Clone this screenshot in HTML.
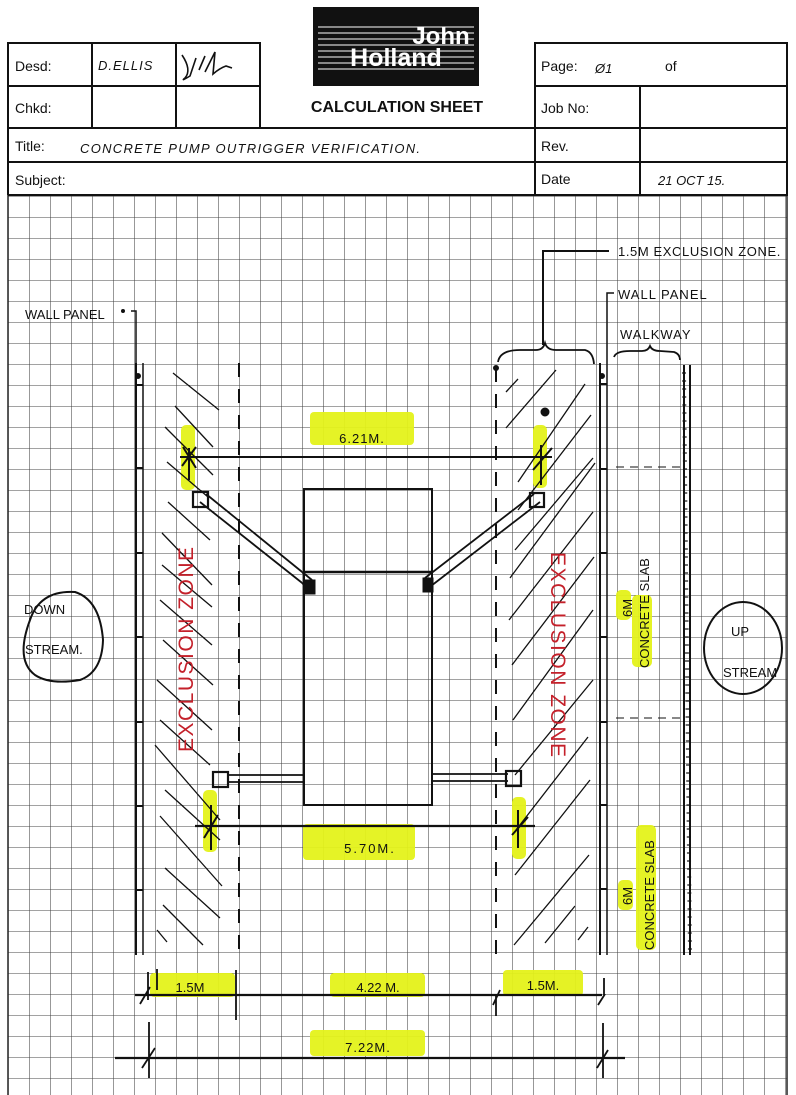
<!DOCTYPE html>
<html><head><meta charset="utf-8"><style>
html,body{margin:0;padding:0;background:#fff}
svg{display:block}
.h{font-family:"Liberation Sans",sans-serif;font-size:14px;fill:#111}
.w{font-family:"Liberation Sans",sans-serif;fill:#111;font-size:13px}
.r{font-family:"Liberation Sans",sans-serif;fill:#c4202a;font-size:21px;letter-spacing:1.5px}
</style></head><body>
<svg width="796" height="1095" viewBox="0 0 796 1095" xmlns="http://www.w3.org/2000/svg">
<defs>
<pattern id="g" x="8" y="196" width="21" height="21" patternUnits="userSpaceOnUse">
<path d="M0 0H21M0 0V21" stroke="#444" stroke-width="1.1" fill="none"/>
</pattern>
</defs>
<rect x="8" y="195" width="779" height="900" fill="url(#g)"/>
<line x1="787" y1="195" x2="787" y2="1095" stroke="#222" stroke-width="1.5"/>
<line x1="8" y1="195" x2="8" y2="1095" stroke="#222" stroke-width="1.5"/>

<g stroke="#111" stroke-width="2" fill="none">
<rect x="8" y="43" width="252" height="85"/>
<line x1="8" y1="86" x2="260" y2="86"/>
<line x1="92" y1="43" x2="92" y2="128"/>
<line x1="176" y1="43" x2="176" y2="128"/>
<rect x="535" y="43" width="252" height="152"/>
<line x1="535" y1="86" x2="787" y2="86"/>
<line x1="535" y1="128" x2="787" y2="128"/>
<line x1="535" y1="162" x2="787" y2="162"/>
<line x1="640" y1="86" x2="640" y2="195"/>
<line x1="8" y1="128" x2="535" y2="128"/>
<line x1="8" y1="162" x2="535" y2="162"/>
<line x1="8" y1="128" x2="8" y2="195"/>
<line x1="8" y1="195" x2="787" y2="195"/>
</g>
<text class="h" x="15" y="71">Desd:</text>
<text class="h" x="15" y="113">Chkd:</text>
<text class="h" x="15" y="151">Title:</text>
<text class="h" x="15" y="185">Subject:</text>
<text class="h" x="541" y="71">Page:</text>
<text class="h" x="665" y="71">of</text>
<text class="h" x="541" y="113">Job No:</text>
<text class="h" x="541" y="151">Rev.</text>
<text class="h" x="541" y="184">Date</text>
<text class="w" x="98" y="70" font-size="16" font-style="italic" letter-spacing="1">D.ELLIS</text>
<path d="M182 55 Q192 70 185 78 Q180 82 190 76 L196 58 M199 70 L205 56 M205 72 L215 52 L213 74 Q220 68 226 66 L232 68" stroke="#111" stroke-width="1.6" fill="none"/>
<text class="w" x="80" y="153" font-size="18" font-style="italic" letter-spacing="1.3">CONCRETE  PUMP  OUTRIGGER  VERIFICATION.</text>
<text class="w" x="595" y="73" font-size="17" font-style="italic">Ø1</text>
<text class="w" x="658" y="185" font-size="16" font-style="italic">21  OCT 15.</text>

<rect x="313" y="7" width="166" height="79" fill="#111"/>
<g stroke="#fff" stroke-width="1">
<line x1="318" y1="27" x2="474" y2="27"/><line x1="318" y1="33" x2="474" y2="33"/>
<line x1="318" y1="39" x2="474" y2="39"/><line x1="318" y1="45" x2="474" y2="45"/>
<line x1="318" y1="51" x2="474" y2="51"/><line x1="318" y1="57" x2="474" y2="57"/>
<line x1="318" y1="63" x2="474" y2="63"/><line x1="318" y1="69" x2="474" y2="69"/>
</g>
<text x="441" y="44" text-anchor="middle" font-family="Liberation Sans,sans-serif" font-weight="bold" font-size="24" fill="#fff">John</text>
<text x="396" y="66" text-anchor="middle" font-family="Liberation Sans,sans-serif" font-weight="bold" font-size="25" fill="#fff">Holland</text>
<text x="397" y="112" text-anchor="middle" font-family="Liberation Sans,sans-serif" font-weight="bold" font-size="16" fill="#111">CALCULATION SHEET</text>

<g fill="#e4f21a" opacity="0.95">
<rect x="310" y="412" width="104" height="33" rx="4"/>
<rect x="181" y="425" width="14" height="65" rx="5"/>
<rect x="533" y="425" width="14" height="63" rx="5"/>
<rect x="303" y="824" width="112" height="36" rx="4"/>
<rect x="203" y="790" width="14" height="62" rx="5"/>
<rect x="512" y="797" width="14" height="62" rx="5"/>
<rect x="616" y="590" width="15" height="30" rx="5"/>
<rect x="632" y="595" width="20" height="72" rx="5"/>
<rect x="618" y="880" width="15" height="30" rx="5"/>
<rect x="636" y="825" width="20" height="125" rx="5"/>
<rect x="150" y="973" width="85" height="24" rx="4"/>
<rect x="330" y="973" width="95" height="24" rx="4"/>
<rect x="503" y="970" width="80" height="26" rx="4"/>
<rect x="310" y="1030" width="115" height="26" rx="4"/>
</g>

<g stroke="#111" fill="none">
<line x1="136" y1="363" x2="136" y2="955" stroke-width="2"/>
<line x1="143" y1="363" x2="143" y2="955" stroke-width="1.5"/>
<path d="M136 385h7M136 468h7M136 553h7M136 637h7M136 722h7M136 806h7M136 890h7" stroke-width="2"/>
<circle cx="138" cy="376" r="2.5" fill="#111"/>
<line x1="239" y1="363" x2="239" y2="955" stroke-width="2" stroke-dasharray="14 12"/>
<line x1="496" y1="368" x2="496" y2="955" stroke-width="2" stroke-dasharray="14 12"/>
<circle cx="496" cy="368" r="2.5" fill="#111"/>
<line x1="600" y1="363" x2="600" y2="955" stroke-width="2"/>
<line x1="607" y1="363" x2="607" y2="955" stroke-width="1.5"/>
<path d="M600 384h7M600 469h7M600 553h7M600 637h7M600 722h7M600 805h7M600 889h7" stroke-width="2"/>
<circle cx="602" cy="376" r="2.5" fill="#111"/>
<line x1="684" y1="365" x2="684" y2="955" stroke-width="2"/>
<line x1="690" y1="365" x2="690" y2="955" stroke-width="2"/>
<line x1="684" y1="372" x2="690" y2="955" stroke-width="4" stroke-dasharray="2 6" opacity="0.6"/>
<line x1="616" y1="467" x2="680" y2="467" stroke-dasharray="8 6"/>
<line x1="616" y1="718" x2="680" y2="718" stroke-dasharray="8 6"/>
<rect x="304" y="489" width="128" height="316" stroke-width="2"/>
<line x1="304" y1="572" x2="432" y2="572" stroke-width="2.5"/>
<path d="M200 502 L306 586 M206 494 L312 580" stroke-width="1.8"/>
<path d="M534 494 L425 578 M540 502 L431 586" stroke-width="1.8"/>
<path d="M228 775 H304 M228 782 H304" stroke-width="1.8"/>
<path d="M432 774 H508 M432 781 H508" stroke-width="1.8"/>
<rect x="193" y="492" width="15" height="15" stroke-width="2.2"/>
<rect x="530" y="493" width="14" height="14" stroke-width="2.2"/>
<rect x="213" y="772" width="15" height="15" stroke-width="2.2"/>
<rect x="506" y="771" width="15" height="15" stroke-width="2.2"/>
<rect x="305" y="580" width="10" height="14" fill="#111"/>
<rect x="423" y="578" width="10" height="14" fill="#111"/>
<circle cx="545" cy="412" r="4" fill="#111"/>
<line x1="180" y1="457" x2="552" y2="457" stroke-width="2"/>
<path d="M183 447 L196 468 M196 447 L182 466 M189 448 V480" stroke-width="2"/>
<path d="M533 470 L552 448 M541 445 V485" stroke-width="2"/>
<line x1="195" y1="826" x2="535" y2="826" stroke-width="2.2"/>
<path d="M211 805 V850 M204 838 L218 815" stroke-width="2"/>
<path d="M518 810 V848 M512 835 L528 817" stroke-width="2"/>
<g stroke-width="1.3">
<path d="M173 373l46 37M175 406l38 41M165 427l48 48M167 462l41 35M168 502l42 38M162 533l50 52M162 565l50 42M160 600l52 45M163 640l50 45M157 680l55 50M160 720l50 45M155 745l65 75M165 790l55 50M160 816l62 70M165 868l55 50M163 905l40 40M157 930l10 12"/>
</g>
<g stroke-width="1.3">
<path d="M506 392l12-13M506 428l50-58M518 482l67-98M518 510l73-95M515 550l78-92M510 578l85-115M509 620l84-108M512 665l82-108M513 720l80-110M515 775l78-95M516 830l72-93M515 875l75-95M514 945l75-90M545 943l30-37M578 940l10-13"/>
</g>
<path d="M131 311 H136 V363" stroke-width="1.5"/>
<circle cx="123" cy="311" r="1.5" fill="#111"/>
<path d="M543 345 V251 H609" stroke-width="2"/>
<path d="M498 362 Q500 350 520 350 L536 350 Q543 350 545 343 Q547 350 556 350 L585 350 Q593 352 594 364" stroke-width="1.8"/>
<path d="M614 293 H607 V363" stroke-width="1.5"/>
<path d="M614 357 Q616 351 630 351 L642 351 Q648 351 650 346 Q652 351 660 351 L674 352 Q680 354 680 360" stroke-width="1.8"/>
<path d="M30 620 Q40 590 75 592 Q100 600 103 640 Q102 672 80 680 Q50 685 35 675 Q15 660 30 620 Z" stroke-width="2"/>
<ellipse cx="743" cy="648" rx="39" ry="46" stroke-width="2"/>
<line x1="135" y1="995" x2="602" y2="995" stroke-width="2.2"/>
<path d="M148 972 V1000 M140 1004 L150 987 M157 969 V990 M236 970 V1020 M496 995 V1016 M493 1005 L500 990 M604 978 V995 M598 1005 L605 994" stroke-width="1.8"/>
<line x1="115" y1="1058" x2="625" y2="1058" stroke-width="2.2"/>
<path d="M149 1022 V1078 M142 1068 L155 1048 M603 1023 V1078 M597 1068 L608 1050" stroke-width="1.8"/>
</g>

<text class="w" x="25" y="319" font-size="12">WALL PANEL</text>
<text class="w" x="618" y="256" font-size="12" letter-spacing="0.6">1.5M EXCLUSION ZONE.</text>
<text class="w" x="618" y="299" font-size="15" letter-spacing="1">WALL PANEL</text>
<text class="w" x="620" y="339" font-size="15" letter-spacing="1">WALKWAY</text>
<text class="w" x="24" y="614" font-size="17">DOWN</text>
<text class="w" x="25" y="654" font-size="13">STREAM.</text>
<text class="w" x="731" y="636" font-size="17">UP</text>
<text class="w" x="723" y="677" font-size="12">STREAM</text>
<text class="w" x="362" y="443" font-size="19" text-anchor="middle" letter-spacing="1">6.21M.</text>
<text class="w" x="370" y="853" font-size="20" text-anchor="middle" letter-spacing="2">5.70M.</text>
<text class="w" x="190" y="992" font-size="16" text-anchor="middle">1.5M</text>
<text class="w" x="378" y="992" font-size="16" text-anchor="middle">4.22 M.</text>
<text class="w" x="543" y="990" font-size="16" text-anchor="middle">1.5M.</text>
<text class="w" x="368" y="1052" font-size="19" text-anchor="middle" letter-spacing="1">7.22M.</text>
<text class="r" transform="translate(193,752) rotate(-90)">EXCLUSION ZONE</text>
<text class="r" transform="translate(551,552) rotate(90)">EXCLUSION ZONE</text>
<text class="w" font-size="14" transform="translate(632,617) rotate(-90)">6M</text>
<text class="w" font-size="15" transform="translate(649,668) rotate(-90)">CONCRETE SLAB</text>
<text class="w" font-size="14" transform="translate(632,905) rotate(-90)">6M</text>
<text class="w" font-size="17" transform="translate(654,950) rotate(-90)">CONCRETE SLAB</text>
</svg>
</body></html>
